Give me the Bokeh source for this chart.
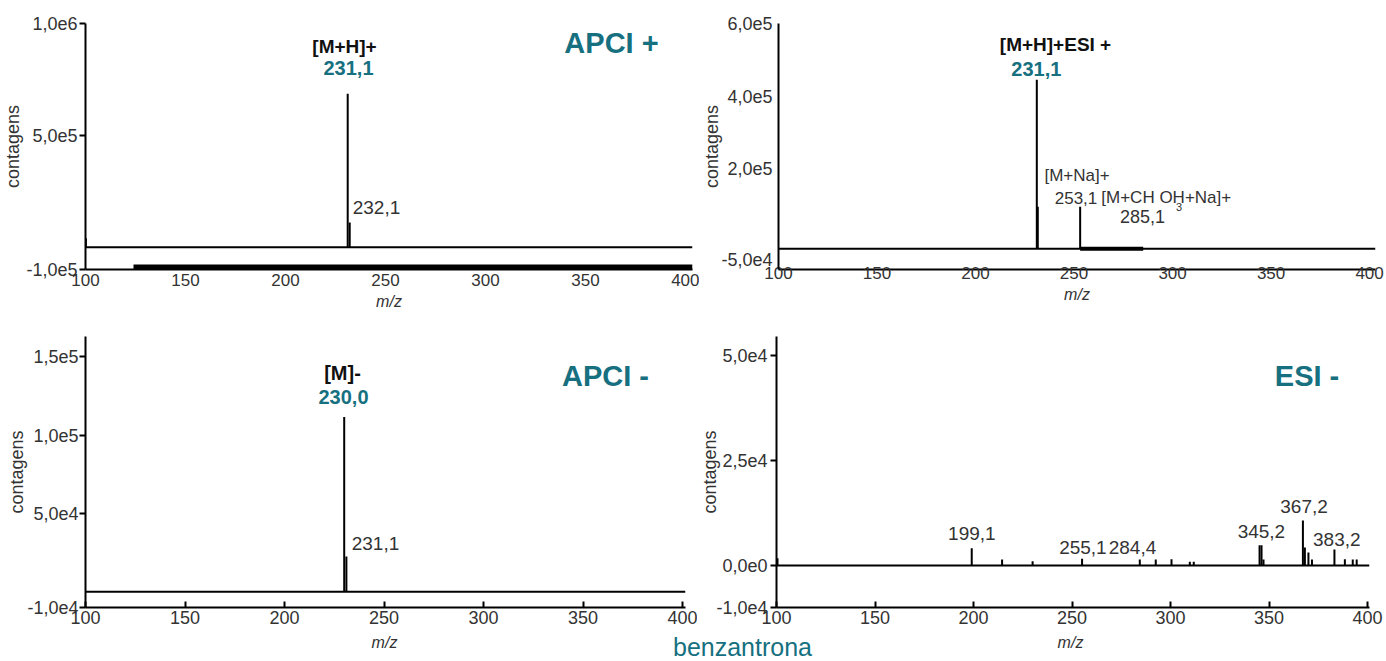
import numpy as np
from bokeh.plotting import figure
from bokeh.models import Range1d, FixedTicker, Label, Span, ColumnDataSource
from bokeh.layouts import column, row
from bokeh.embed import file_html
from bokeh.resources import INLINE

TEAL = "#16707f"
FONT = "Liberation Sans"
GRAY = "#333333"

# ---------------- data ----------------
x_ticks = [100, 150, 200, 250, 300, 350, 400]
compound = "benzantrona"
y_title = "contagens"
x_title = "m/z"

# APCI +
apci_pos_mz = [100.2, 231.1, 232.1]
apci_pos_int = [4.0e4, 6.86e5, 1.10e5]
apci_pos_baseline = 0.0
apci_pos_axis_band = [124.0, 403.5]
apci_pos_yticks = [-1.0e5, 5.0e5, 1.0e6]
apci_pos_ylabels = ["-1,0e5", "5,0e5", "1,0e6"]

# ESI +
esi_pos_mz = [231.1, 231.6, 253.1]
esi_pos_int = [4.45e5, 0.96e5, 0.96e5]
esi_pos_baseline = -2.0e4
esi_pos_band = [253.1, 285.1]
esi_pos_yticks = [-5.0e4, 2.0e5, 4.0e5, 6.0e5]
esi_pos_ylabels = ["-5,0e4", "2,0e5", "4,0e5", "6,0e5"]

# APCI -
apci_neg_mz = [230.0, 231.1]
apci_neg_int = [1.115e5, 2.25e4]
apci_neg_baseline = 0.0
apci_neg_yticks = [-1.0e4, 5.0e4, 1.0e5, 1.5e5]
apci_neg_ylabels = ["-1,0e4", "5,0e4", "1,0e5", "1,5e5"]

# ESI -
esi_neg_mz = [100.5, 199.1, 214.5, 230.0, 255.1, 284.4, 292.5, 300.5, 309.8, 311.8,
              345.2, 346.2, 347.2, 367.2, 368.2, 370.0, 371.8, 383.2, 388.5, 392.5, 394.5]
esi_neg_int = [1.7e3, 4.1e3, 1.4e3, 1.0e3, 1.6e3, 1.4e3, 1.4e3, 1.5e3, 0.9e3, 0.9e3,
               4.8e3, 4.8e3, 1.4e3, 1.07e4, 4.3e3, 3.1e3, 1.4e3, 3.8e3, 1.5e3, 1.4e3, 1.4e3]
esi_neg_baseline = 0.0
esi_neg_yticks = [-1.0e4, 0.0, 2.5e4, 5.0e4]
esi_neg_ylabels = ["-1,0e4", "0,0e0", "2,5e4", "5,0e4"]


def fmt(v):
    return f"{v:.1f}".replace(".", ",")


# ---------------- helpers ----------------
def make_panel(width, height, borders, frame, xr, yr, yticks, ylabels,
               xfont, xstand, xtick_in, ytick_out, ystand, ylab_stand, xlabel,
               mz, inten, base):
    L, R, T, B = borders
    p = figure(width=width, height=height, output_backend="svg", toolbar_location=None,
               x_range=Range1d(*xr), y_range=Range1d(*yr),
               min_border_left=L, min_border_right=R, min_border_top=T, min_border_bottom=B)
    p.outline_line_color = None
    p.xgrid.visible = False
    p.ygrid.visible = False
    p.background_fill_color = "white"
    p.border_fill_color = "white"
    for ax in (p.xaxis[0], p.yaxis[0]):
        ax.axis_line_width = 2
        ax.axis_line_color = "black"
        ax.major_tick_line_width = 2
        ax.major_tick_line_color = "black"
        ax.minor_tick_line_color = None
        ax.major_label_text_font = FONT
        ax.major_label_text_color = GRAY
        ax.axis_label_text_font = FONT
        ax.axis_label_text_color = GRAY
    xa = p.xaxis[0]
    xa.ticker = FixedTicker(ticks=x_ticks)
    xa.major_label_text_font_size = xfont
    xa.major_label_standoff = xstand
    xa.major_tick_in = xtick_in
    xa.major_tick_out = 0
    if xlabel:
        xa.axis_label = xlabel
        xa.axis_label_text_font_size = "16px"
        xa.axis_label_text_font_style = "italic"
        xa.axis_label_standoff = 4
    ya = p.yaxis[0]
    ya.ticker = FixedTicker(ticks=yticks)
    ya.major_label_overrides = {float(t): s for t, s in zip(yticks, ylabels)}
    ya.major_label_overrides.update({int(t): s for t, s in zip(yticks, ylabels) if float(t).is_integer()})
    ya.major_label_text_font_size = "18px"
    ya.major_tick_out = ytick_out
    ya.major_tick_in = 0
    ya.major_label_standoff = ystand
    ya.axis_label = y_title
    ya.axis_label_text_font_size = "18px"
    ya.axis_label_text_font_style = "normal"
    ya.axis_label_standoff = ylab_stand

    # spectrum
    p.add_layout(Span(location=base, dimension="width", line_color="black", line_width=2))
    src = ColumnDataSource(dict(x=mz, y0=[base] * len(mz), y1=inten))
    p.segment(x0="x", y0="y0", x1="x", y1="y1", source=src, line_color="black", line_width=2)

    fl, ft, fw, fh = frame

    def px(X, Y):
        x = xr[0] + (X - fl) / fw * (xr[1] - xr[0])
        y = yr[1] - (Y - ft) / fh * (yr[1] - yr[0])
        return x, y

    def lab(text, X, Y, size, color=GRAY, style="normal"):
        x, y = px(X, Y)
        p.add_layout(Label(x=x, y=y, text=text, text_font=FONT, text_font_size=size,
                           text_color=color, text_font_style=style,
                           text_align="center", text_baseline="middle"))
    return p, lab


# ---------------- APCI + (top left) ----------------
tl, tl_lab = make_panel(699, 318, (85, 7, 21, 49), (85, 21, 607, 248),
                        (100, 403.5), (-1.0e5, 1.0e6), apci_pos_yticks, apci_pos_ylabels,
                        "17px", 4, 0, 6, 2, 0, x_title,
                        apci_pos_mz, apci_pos_int, apci_pos_baseline)
tl.line(x=apci_pos_axis_band, y=[-1.0e5, -1.0e5], line_color="black", line_width=10)
tl_lab("APCI +", 611, 41, "29px", TEAL, "bold")
tl_lab("[M+H]+", 344, 44, "19px", "#111111", "bold")
tl_lab(fmt(apci_pos_mz[1]), 348, 66, "20px", TEAL, "bold")
tl_lab(fmt(apci_pos_mz[2]), 376, 206, "19px")

# ---------------- ESI + (top right) ----------------
tr, tr_lab = make_panel(685, 318, (74, 9, 23, 41), (773, 23, 602, 254),
                        (100, 403.0), (-7.7e4, 6.0e5), esi_pos_yticks, esi_pos_ylabels,
                        "17px", -3, 0, 0, 6, -4, x_title,
                        esi_pos_mz, esi_pos_int, esi_pos_baseline)
tr.line(x=esi_pos_band, y=[esi_pos_baseline, esi_pos_baseline], line_color="black", line_width=4)
tr_lab("[M+H]+ESI  +", 1055, 45, "19px", "#111111", "bold")
tr_lab(fmt(esi_pos_mz[0]), 1033, 70, "20px", TEAL, "bold")
tr_lab("[M+Na]+", 1074, 180, "17px")
tr_lab(fmt(esi_pos_mz[2]), 1073, 203, "17px")
tr_lab("[M+CH OH+Na]+", 1164, 203, "17px")
tr_lab("3", 1177, 212, "11px")
tr_lab(fmt(esi_pos_band[1]), 1140, 222, "18px")

# ---------------- APCI - (bottom left) ----------------
bl, bl_lab = make_panel(697, 313, (85, 12, 18, 24), (85, 336, 600, 271),
                        (100, 401.5), (-1.0e4, 1.629e5), apci_neg_yticks, apci_neg_ylabels,
                        "18px", 3, 6, 6, 1, -3, None,
                        apci_neg_mz, apci_neg_int, apci_neg_baseline)
bl_lab("APCI -", 605, 375, "29px", TEAL, "bold")
bl_lab("[M]-", 342, 372, "20px", "#111111", "bold")
bl_lab(fmt(apci_neg_mz[0]), 343, 396, "20px", TEAL, "bold")
bl_lab(fmt(apci_neg_mz[1]), 375, 543, "19px")

# ---------------- ESI - (bottom right) ----------------
br, br_lab = make_panel(687, 313, (74, 15, 18, 24), (771, 336, 598, 271),
                        (100, 401.0), (-1.0e4, 5.452e4), esi_neg_yticks, esi_neg_ylabels,
                        "18px", 3, 6, 6, 3, -7, None,
                        esi_neg_mz, esi_neg_int, esi_neg_baseline)
br_lab("ESI -", 1306, 375, "29px", TEAL, "bold")
for mzv, X, Y in [(199.1, 968, 533), (255.1, 1080, 547), (284.4, 1130, 547),
                  (345.2, 1260, 531), (367.2, 1303, 506), (383.2, 1336, 539)]:
    br_lab(fmt(mzv), X, Y, "19px")

# ---------------- bottom strip ----------------
strip = figure(width=1384, height=30, output_backend="svg", toolbar_location=None,
               x_range=Range1d(0, 1384), y_range=Range1d(661, 631),
               x_axis_type=None, y_axis_type=None,
               min_border_left=0, min_border_right=0, min_border_top=0, min_border_bottom=0)
strip.outline_line_color = None
strip.xgrid.visible = False
strip.ygrid.visible = False
for X in (384, 1070):
    strip.add_layout(Label(x=X, y=642, text=x_title, text_font=FONT, text_font_size="16px",
                           text_font_style="italic", text_color=GRAY, text_align="center",
                           text_baseline="middle"))
strip.add_layout(Label(x=742, y=646, text=compound, text_font=FONT, text_font_size="25px",
                       text_color=TEAL, text_align="center", text_baseline="middle"))

layout = column(row(tl, tr), row(bl, br), strip)
open("out.html", "w").write(file_html(layout, INLINE))
